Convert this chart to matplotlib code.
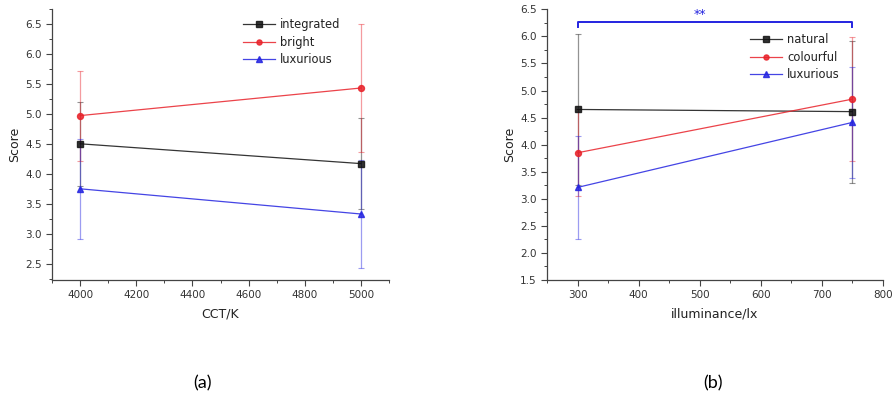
import matplotlib
matplotlib.use("Agg")
import matplotlib.pyplot as plt
from matplotlib.ticker import MultipleLocator

plt.rcParams['font.family'] = ['DejaVu Sans']

# (a) CCT
cct = [4000, 5000]
integrated = [4.50, 4.17]
integrated_err = [0.70, 0.76]
bright = [4.97, 5.43]
bright_err = [0.75, 1.07]
lux_a = [3.75, 3.33]
lux_a_err = [0.83, 0.90]

# (b) illuminance
lux_levels = [300, 750]
natural = [4.65, 4.61]
natural_err = [1.39, 1.31]
colourful = [3.85, 4.84]
colourful_err = [0.80, 1.15]
lux_b = [3.21, 4.41]
lux_b_err = [0.95, 1.03]

BLACK = '#111111'
RED = '#e8222a'
BLUE = '#2424e0'
TICKC = '#333333'

fig = plt.figure(figsize=(8.94, 4.05), dpi=100)
ax1 = fig.add_axes([52/894, 1-280/405, 337/894, 271.2/405])
ax2 = fig.add_axes([547/894, 1-280/405, 335.7/894, 270.7/405])


def style(ax):
    for s in ['top', 'right']:
        ax.spines[s].set_visible(False)
    for s in ['left', 'bottom']:
        ax.spines[s].set_color('#444444')
        ax.spines[s].set_linewidth(0.9)
    ax.tick_params(which='major', direction='out', length=4, width=0.8,
                   colors='#444444', labelcolor=TICKC, labelsize=7.5)
    ax.tick_params(which='minor', direction='out', length=2.5, width=0.7,
                   colors='#444444')


def series(ax, x, y, e, color, marker, label):
    c = ax.errorbar(x, y, yerr=e, color=color, lw=0.9, elinewidth=0.9,
                    capsize=2.5, capthick=0.8, marker=marker, ms=4.3,
                    label=label)
    c[0].set_alpha(0.85)
    for cap in c[1]:
        cap.set_alpha(0.45)
    for bar in c[2]:
        bar.set_alpha(0.45)


def legend(ax, anchor):
    h, l = ax.get_legend_handles_labels()
    ax.legend([x[0] for x in h], l, frameon=False, loc='upper left',
              bbox_to_anchor=anchor, fontsize=8.3, handlelength=2.8,
              handletextpad=0.4, labelspacing=0.4, labelcolor='#222222',
              markerscale=0.85)


series(ax1, cct, integrated, integrated_err, BLACK, 's', 'integrated')
series(ax1, cct, bright, bright_err, RED, 'o', 'bright')
series(ax1, cct, lux_a, lux_a_err, BLUE, '^', 'luxurious')
ax1.set_xlim(3900, 5100)
ax1.set_ylim(2.23, 6.75)
ax1.xaxis.set_major_locator(MultipleLocator(200))
ax1.xaxis.set_minor_locator(MultipleLocator(100))
ax1.yaxis.set_major_locator(MultipleLocator(0.5))
ax1.yaxis.set_minor_locator(MultipleLocator(0.25))
ax1.set_xlabel('CCT/K', fontsize=9, color='#222222', labelpad=5)
ax1.set_ylabel('Score', fontsize=9, color='#222222', labelpad=3)
style(ax1)
legend(ax1, (0.536, 1.004))

series(ax2, lux_levels, natural, natural_err, BLACK, 's', 'natural')
series(ax2, lux_levels, colourful, colourful_err, RED, 'o', 'colourful')
series(ax2, lux_levels, lux_b, lux_b_err, BLUE, '^', 'luxurious')
ax2.set_xlim(250, 800)
ax2.set_ylim(1.5, 6.5)
ax2.xaxis.set_major_locator(MultipleLocator(100))
ax2.xaxis.set_minor_locator(MultipleLocator(50))
ax2.yaxis.set_major_locator(MultipleLocator(0.5))
ax2.yaxis.set_minor_locator(MultipleLocator(0.25))
ax2.set_xlabel('illuminance/lx', fontsize=9, color='#222222', labelpad=5)
ax2.set_ylabel('Score', fontsize=9, color='#222222', labelpad=3)
style(ax2)
legend(ax2, (0.574, 0.951))

# significance bracket
ax2.plot([300, 300, 750, 750], [6.18, 6.27, 6.27, 6.18], color=BLUE, lw=1.4,
         clip_on=False)
ax2.text(500, 6.29, '**', color=BLUE, ha='center', va='bottom', fontsize=9)

fig.text(202/894, 1-383/405, '(a)', fontsize=13, ha='center', va='center',
         family=['Lato', 'DejaVu Sans'])
fig.text(713/894, 1-383/405, '(b)', fontsize=13, ha='center', va='center',
         family=['Lato', 'DejaVu Sans'])

fig.savefig('out.png', dpi=100)
